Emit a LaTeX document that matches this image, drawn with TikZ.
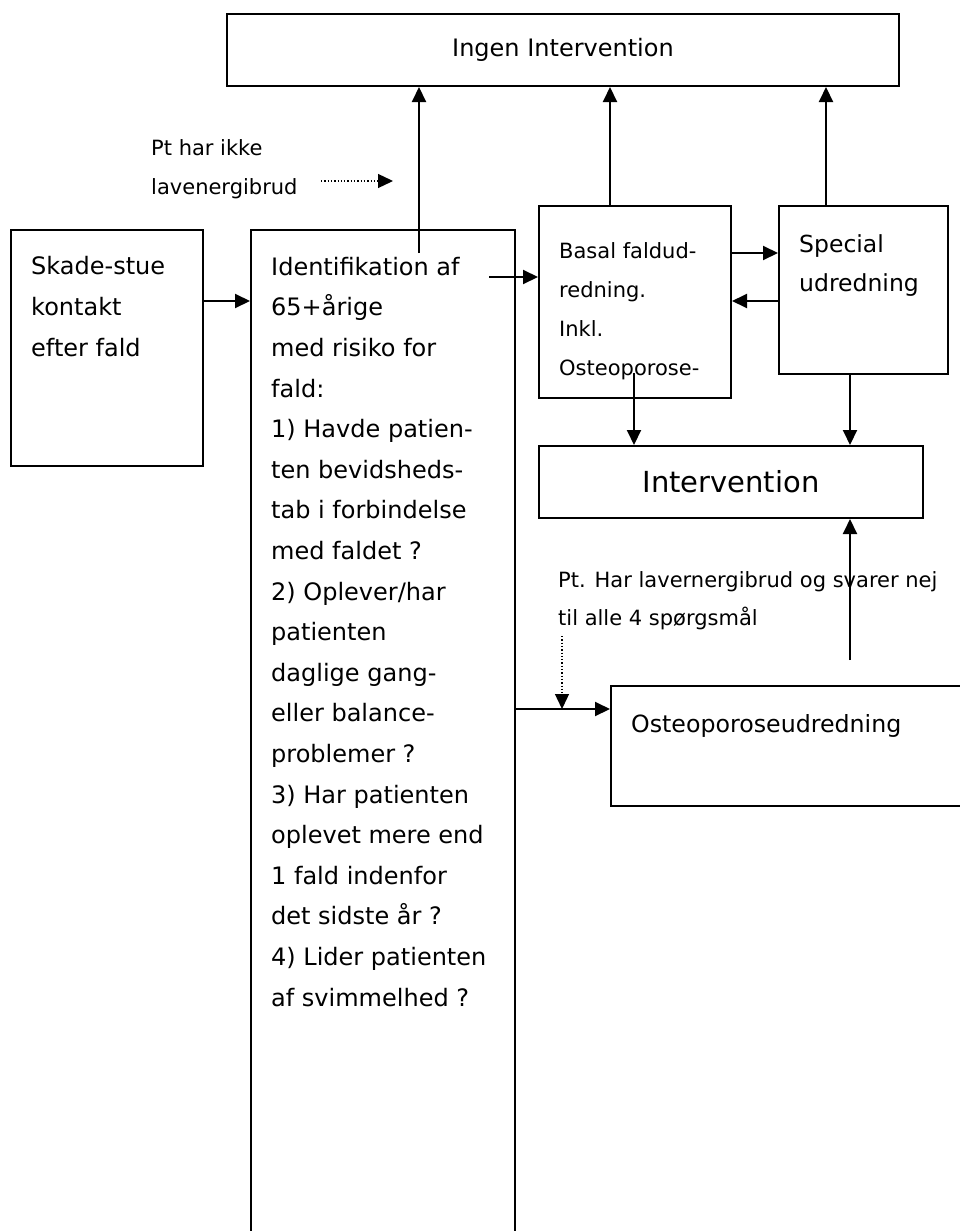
\documentclass[tikz,border=0pt]{standalone}
\usepackage{fontspec}
\setmainfont{DejaVu Sans}
\usetikzlibrary{arrows.meta}
\newcommand{\fsz}[2]{\fontsize{#1}{#2}\selectfont}
\begin{document}
\begin{tikzpicture}[x=1pt,y=-1pt,
  box/.style={draw, line width=2pt, inner sep=0pt, anchor=north west},
  txt/.style={inner sep=0pt, anchor=base west, align=left},
  arr/.style={line width=2pt, -{Triangle[length=15pt,width=14pt]}},
  dotarr/.style={line width=1.3pt, dotted, -{Triangle[length=15pt,width=14pt]}}]
\useasboundingbox (0,0) rectangle (960,1231);
\clip (0,0) rectangle (960,1231);
\fill[white] (0,0) rectangle (960,1231);
% boxes
\node[box, minimum width=672pt, minimum height=72pt] (ingen) at (226,13) {};
\node[box, minimum width=192pt, minimum height=236pt] (skade) at (10,229) {};
\node[box, minimum width=264pt, minimum height=1071pt] (ident) at (250,229) {};
\node[box, minimum width=192pt, minimum height=192pt] (basal) at (538,205) {};
\node[box, minimum width=169pt, minimum height=168pt] (special) at (778,205) {};
\node[box, minimum width=384pt, minimum height=72pt] (interv) at (538,445) {};
\node[box, minimum width=370pt, minimum height=120pt] (osteo) at (610,685) {};
% texts (base anchor = baseline of last line)
\node[font=\fsz{24}{29}] (ingentxt) at (ingen.center) {Ingen Intervention};
\node[font=\fsz{29}{35}] (intervtxt) at (interv.center) {Intervention};
\node[txt, font=\fsz{24}{41}] (skadetxt) at (31,356) {Skade-stue\\kontakt\\efter fald};
\node[txt, font=\fsz{24}{40.6}] (identtxt) at (271,1006) {Identifikation af\\65+årige\\med risiko for\\fald:\\1) Havde patien-\\ten bevidsheds-\\tab i forbindelse\\med faldet ?\\2) Oplever/har\\patienten\\daglige gang-\\eller balance-\\problemer ?\\3) Har patienten\\oplevet mere end\\1 fald indenfor\\det sidste år ?\\4) Lider patienten\\af svimmelhed ?};
\node[txt, font=\fsz{21}{39}] (basaltxt) at (559,375) {Basal faldud-\\redning.\\Inkl.\\Osteoporose-};
\node[txt, font=\fsz{23.5}{39}] (specialtxt) at (799,291) {Special\\udredning};
\node[txt, font=\fsz{23.7}{29}] (osteotxt) at (631,732) {Osteoporoseudredning};
\node[txt, font=\fsz{21}{39}] (lbl1) at (151,194) {Pt har ikke\\lavenergibrud};
\node[txt, font=\fsz{21}{38}] (lbl2) at (558,625) {Pt. Har lavernergibrud og svarer nej\\til alle 4 spørgsmål};
% helper coordinates
\coordinate (y253) at (0,253);
\coordinate (y301) at (0,301);
\coordinate (y709) at (0,709);
\coordinate (x610) at (610,0);
\coordinate (x826) at (826,0);
\coordinate (x850) at (850,0);
\coordinate (a1) at (419,253);
\coordinate (a2) at (489,277);
\coordinate (a3) at (634,373);
\coordinate (a4) at (850,660);
\coordinate (d1) at (562,636);
\coordinate (d2) at (321,181);
\coordinate (d3) at (393,181);
% connectors
\draw[arr] (skade.east |- y301) -- (ident.west |- y301);
\draw[arr] (a1) -- (a1 |- ingen.south);
\draw[arr] (a2) -- (a2 -| basal.west);
\draw[arr] (basal.north -| x610) -- (ingen.south -| x610);
\draw[arr] (special.north -| x826) -- (ingen.south -| x826);
\draw[arr] (basal.east |- y253) -- (special.west |- y253);
\draw[arr] (special.west |- y301) -- (basal.east |- y301);
\draw[arr] (a3) -- (a3 |- interv.north);
\draw[arr] (special.south -| x850) -- (interv.north -| x850);
\draw[arr] (a4) -- (a4 |- interv.south);
\draw[arr] (ident.east |- y709) -- (osteo.west |- y709);
\draw[dotarr] (d1) -- (d1 |- y709);
\draw[dotarr] (d2) -- (d3);
\end{tikzpicture}
\end{document}
